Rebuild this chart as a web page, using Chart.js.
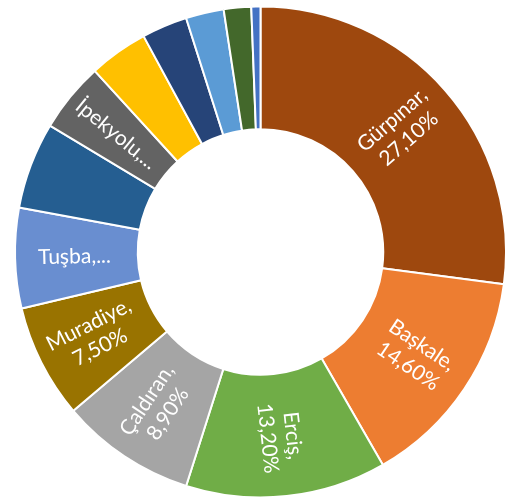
<!DOCTYPE html>
<html>
<head>
<meta charset="utf-8">
<script src="https://cdn.jsdelivr.net/npm/chart.js@4.4.1/dist/chart.umd.min.js"></script>
<style>
html, body { margin: 0; padding: 0; background: #fff; }
#wrap { width: 507px; height: 501px; }
</style>
</head>
<body>
<div id="wrap"><canvas id="district-chart"></canvas></div>
<script>
const districts = ['Gürpınar', 'Başkale', 'Erciş', 'Çaldıran', 'Muradiye', 'Tuşba', 'Özalp', 'İpekyolu', 'Çatak', 'Gevaş', 'Edremit', 'Saray', 'Bahçesaray'];
const shares = [27.1, 14.6, 13.2, 8.9, 7.5, 6.6, 5.7, 4.6, 3.9, 3.0, 2.5, 1.8, 0.6];
const sliceColors = ['#9E480E', '#ED7D31', '#70AD47', '#A5A5A5', '#997300', '#698ED0', '#255E91', '#636363', '#FFC000', '#264478', '#5B9BD5', '#43682B', '#4472C4'];

// these get name + value, the two below only a cut-off name, the rest nothing
const fullLabels = ['Gürpınar', 'Başkale', 'Erciş', 'Çaldıran', 'Muradiye'];
const shortLabels = ['Tuşba', 'İpekyolu'];

const pct = v => v.toFixed(2).replace('.', ',') + '%';

const sliceLabels = {
    id: 'sliceLabels',
    afterDatasetsDraw(chart) {
        const ctx = chart.ctx;
        const meta = chart.getDatasetMeta(0);
        const fontSize = 21;
        ctx.save();
        ctx.fillStyle = '#fff';
        ctx.font = fontSize + 'px Lato';
        ctx.textAlign = 'center';
        ctx.textBaseline = 'middle';
        meta.data.forEach((arc, i) => {
            const name = districts[i];
            let lines;
            if (fullLabels.includes(name)) {
                lines = [name + ',', pct(shares[i])];
            } else if (shortLabels.includes(name)) {
                lines = [name + ',...'];
            } else {
                return;
            }
            const p = arc.getProps(['x', 'y', 'startAngle', 'endAngle', 'innerRadius', 'outerRadius'], true);
            const mid = (p.startAngle + p.endAngle) / 2;
            const r = (p.innerRadius + p.outerRadius) / 2 + 2;
            // run the text along the radius, never upside down
            let rot = mid;
            while (rot > Math.PI / 2) rot -= Math.PI;
            while (rot < -Math.PI / 2) rot += Math.PI;
            ctx.save();
            ctx.translate(p.x + Math.cos(mid) * r, p.y + Math.sin(mid) * r);
            ctx.rotate(rot);
            const lh = fontSize * 1.2;
            lines.forEach((t, k) => {
                ctx.fillText(t, 0, (k - (lines.length - 1) / 2) * lh);
            });
            ctx.restore();
        });
        ctx.restore();
    }
};

const displayChart = () => {
    const canvas = document.getElementById('district-chart').getContext('2d');
    new Chart(canvas, {
        type: 'doughnut',
        data: {
            labels: districts,
            datasets: [{
                data: shares,
                backgroundColor: sliceColors,
                borderColor: '#fff',
                borderWidth: 2
            }]
        },
        options: {
            responsive: true,
            maintainAspectRatio: false,
            animation: false,
            cutout: '50%',
            layout: { padding: { left: 14, right: 0, top: 5, bottom: 2 } },
            plugins: {
                legend: { display: false },
                tooltip: { enabled: false }
            }
        },
        plugins: [sliceLabels]
    });
};
displayChart();
</script>
</body>
</html>
